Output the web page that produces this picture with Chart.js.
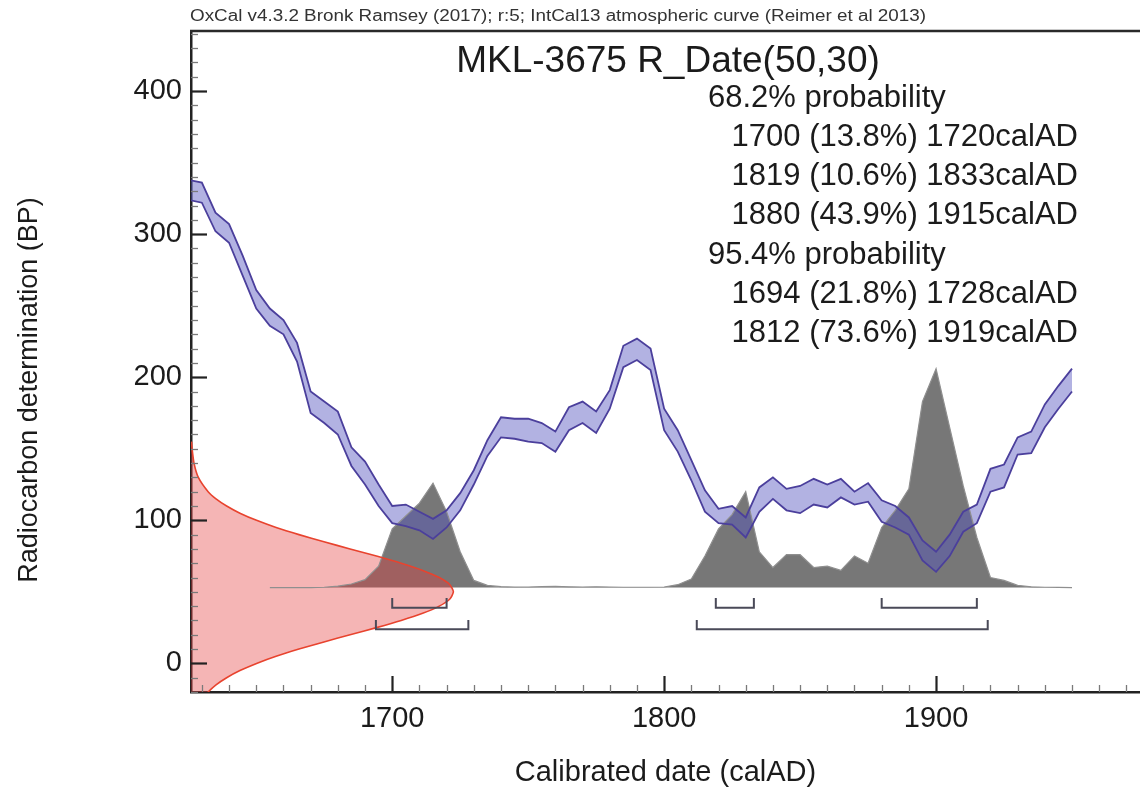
<!DOCTYPE html>
<html>
<head>
<meta charset="utf-8">
<title>MKL-3675 R_Date(50,30)</title>
<script src="https://cdn.jsdelivr.net/npm/chart.js@4.4.1/dist/chart.umd.min.js"></script>
<style>
  html, body { margin: 0; padding: 0; background: #fff; }
</style>
</head>
<body>
<canvas id="oxcal-chart" width="1140" height="792"></canvas>
<script>
// 标题与说明文字
const captionText = 'OxCal v4.3.2 Bronk Ramsey (2017); r:5; IntCal13 atmospheric curve (Reimer et al 2013)';
const titleText = 'MKL-3675 R_Date(50,30)';
const xTitle = 'Calibrated date (calAD)';
const yTitle = 'Radiocarbon determination (BP)';

// 刻度标签
const xTickValues = [1700, 1800, 1900];
const yTickValues = [0, 100, 200, 300, 400];

// IntCal13 校正曲线 (5 年一点)，上沿和下沿
const calYears = [1625, 1630, 1635, 1640, 1645, 1650, 1655, 1660, 1665, 1670,
  1675, 1680, 1685, 1690, 1695, 1700, 1705, 1710, 1715, 1720,
  1725, 1730, 1735, 1740, 1745, 1750, 1755, 1760, 1765, 1770,
  1775, 1780, 1785, 1790, 1795, 1800, 1805, 1810, 1815, 1820,
  1825, 1830, 1835, 1840, 1845, 1850, 1855, 1860, 1865, 1870,
  1875, 1880, 1885, 1890, 1895, 1900, 1905, 1910, 1915, 1920,
  1925, 1930, 1935, 1940, 1945, 1950];
const curveUpper = [338, 336, 315, 307, 285, 261, 248, 240, 224, 190,
  183, 176, 151, 141, 125, 110, 111, 106, 101, 107,
  119, 135, 156, 172, 171, 171, 168, 162, 179, 183,
  176, 191, 222, 227, 220, 178, 163, 142, 121, 108,
  110, 102, 123, 130, 122, 124, 129, 125, 129, 120,
  126, 114, 110, 102, 86, 78, 90, 106, 111, 136,
  139, 158, 162, 181, 194, 206];
const curveLower = [324, 322, 302, 294, 271, 248, 236, 230, 211, 175,
  168, 160, 138, 125, 110, 98, 96, 93, 87, 95,
  107, 125, 145, 158, 157, 155, 154, 148, 163, 168,
  161, 178, 207, 212, 205, 163, 148, 128, 106, 98,
  97, 88, 106, 115, 107, 105, 111, 109, 116, 111,
  113, 99, 95, 90, 72, 64, 75, 92, 98, 120,
  123, 146, 147, 165, 178, 190];

// 校正后的概率分布 (灰色)，基线在 53
const probYears = [1655, 1660, 1665, 1670, 1675, 1680, 1685, 1690, 1695, 1700,
  1705, 1710, 1715, 1720, 1725, 1730, 1735, 1740, 1745, 1750,
  1755, 1760, 1765, 1770, 1775, 1780, 1785, 1790, 1795, 1800,
  1805, 1810, 1815, 1820, 1825, 1830, 1835, 1840, 1845, 1850,
  1855, 1860, 1865, 1870, 1875, 1880, 1885, 1890, 1895, 1900,
  1905, 1910, 1915, 1920, 1925, 1930, 1935, 1940, 1945, 1950];
const probLevel = [53, 53, 53, 53, 53.2, 54, 55.5, 58.5, 68, 94,
  103, 112, 126, 106, 78, 58, 54.5, 53.6, 53.3, 53.4,
  53.6, 53.8, 53.5, 53.4, 53.5, 53.4, 53.2, 53.2, 53.2, 53.4,
  55, 59, 75, 94, 104, 120, 78, 67, 76, 76,
  67, 68, 65, 75, 70, 95, 107, 122, 183, 206,
  165, 124, 88, 60, 58, 54.5, 53.5, 53.2, 53.1, 53];
const probBaseline = 53;

// 放射性碳测年 (红色, 50±30 BP)，沿 y 轴的分布轮廓
const rdateBP = [155, 150, 140, 130, 120, 115, 110, 105, 100, 95,
  90, 85, 80, 75, 70, 65, 60, 55, 50, 45,
  40, 35, 30, 25, 20, 15, 10, 5, 0, -5,
  -10, -15, -20, -25, -30, -30, 155];
const rdateEdge = [1626.2, 1626.4, 1627.1, 1628.7, 1632.3, 1635.2, 1639.1, 1644, 1650.1, 1657.3,
  1665.7, 1674.9, 1684.5, 1694.2, 1703.3, 1711.2, 1717.3, 1721.2, 1722.5, 1721.2,
  1717.3, 1711.2, 1703.3, 1694.2, 1684.5, 1674.9, 1665.7, 1657.3, 1650.1, 1644,
  1639.1, 1635.2, 1632.3, 1630.1, 1628.7, 1618, 1618];

// 区间
const range68From = [1700, 1819, 1880];
const range68To = [1720, 1833, 1915];
const range68Pct = ['13.8', '10.6', '43.9'];
const range95From = [1694, 1812];
const range95To = [1728, 1919];
const range95Pct = ['21.8', '73.6'];

const FONT = "'Liberation Sans', Arial, Helvetica, sans-serif";
const INK = '#1b1b1b';

function toPoints(xs, ys) {
  return xs.map((x, i) => ({ x: x, y: ys[i] }));
}

// 区间括号: ⊔ 形
function bracketDataset(from, to, top, bottom) {
  return {
    label: 'range ' + from + '-' + to,
    data: [{ x: from, y: top }, { x: from, y: bottom }, { x: to, y: bottom }, { x: to, y: top }],
    showLine: true,
    pointRadius: 0,
    borderColor: '#4a4a58',
    borderWidth: 2,
    fill: false,
    order: 0
  };
}

const datasets = [];
range68From.forEach((f, i) => datasets.push(bracketDataset(f, range68To[i], 45.7, 38.8)));
range95From.forEach((f, i) => datasets.push(bracketDataset(f, range95To[i], 30.4, 23.9)));

datasets.push({
  label: 'R_Date(50,30)',
  data: toPoints(rdateEdge, rdateBP),
  showLine: true,
  pointRadius: 0,
  borderColor: '#e8432e',
  borderWidth: 1.6,
  backgroundColor: 'rgba(230, 60, 60, 0.38)',
  fill: 'shape',
  tension: 0.2,
  order: 1
});
datasets.push({
  label: 'IntCal13 upper',
  data: toPoints(calYears, curveUpper),
  showLine: true,
  pointRadius: 0,
  borderColor: '#4b3f9c',
  borderWidth: 1.8,
  backgroundColor: 'rgba(85, 85, 190, 0.45)',
  fill: '+1',
  order: 2
});
datasets.push({
  label: 'IntCal13 lower',
  data: toPoints(calYears, curveLower),
  showLine: true,
  pointRadius: 0,
  borderColor: '#4b3f9c',
  borderWidth: 1.8,
  fill: false,
  order: 3
});
datasets.push({
  label: 'calibrated',
  data: toPoints(probYears, probLevel),
  showLine: true,
  pointRadius: 0,
  borderColor: '#8f8f8f',
  borderWidth: 1.2,
  backgroundColor: '#777777',
  fill: { value: probBaseline },
  order: 4
});

// 坐标轴小刻度、上边框和文字
const oxcalDecor = {
  id: 'oxcalDecor',
  afterDatasetsDraw(chart) {
    const { ctx, chartArea } = chart;
    const xs = chart.scales.x;
    const ys = chart.scales.y;
    ctx.save();

    // y 轴刻度 (朝内)
    for (let v = -20; v <= 440; v += 10) {
      const py = Math.round(ys.getPixelForValue(v)) + 0.5;
      const major = v % 100 === 0;
      ctx.beginPath();
      ctx.strokeStyle = major ? '#222' : '#7a7a7a';
      ctx.lineWidth = major ? 2.2 : 1.3;
      ctx.moveTo(chartArea.left, py);
      ctx.lineTo(chartArea.left + (major ? 16 : 7), py);
      ctx.stroke();
    }
    // x 轴刻度 (朝内)
    for (let v = 1630; v <= 1970; v += 10) {
      const px = Math.round(xs.getPixelForValue(v)) + 0.5;
      const major = v % 100 === 0;
      ctx.beginPath();
      ctx.strokeStyle = major ? '#222' : '#7a7a7a';
      ctx.lineWidth = major ? 2.2 : 1.3;
      ctx.moveTo(px, chartArea.bottom);
      ctx.lineTo(px, chartArea.bottom - (major ? 16 : 7));
      ctx.stroke();
    }
    // 上边框
    ctx.beginPath();
    ctx.strokeStyle = '#2a2a2a';
    ctx.lineWidth = 2.5;
    ctx.moveTo(chartArea.left - 1, chartArea.top);
    ctx.lineTo(chartArea.right, chartArea.top);
    ctx.stroke();

    // 顶部说明 (横向拉伸到原图宽度)
    ctx.fillStyle = '#333';
    ctx.font = '16px ' + FONT;
    ctx.textAlign = 'left';
    ctx.textBaseline = 'middle';
    const capW = ctx.measureText(captionText).width;
    ctx.save();
    ctx.translate(chartArea.left - 1, 17);
    ctx.scale(736 / capW, 1);
    ctx.fillText(captionText, 0, 0);
    ctx.restore();

    // 标题
    ctx.fillStyle = INK;
    ctx.font = '37px ' + FONT;
    ctx.textAlign = 'center';
    ctx.fillText(titleText, 668, 62);

    // 概率区间文字
    ctx.font = '31px ' + FONT;
    const lines = [];
    lines.push({ t: '68.2% probability', head: true });
    range68From.forEach((f, i) => lines.push({ t: f + ' (' + range68Pct[i] + '%) ' + range68To[i] + 'calAD' }));
    lines.push({ t: '95.4% probability', head: true });
    range95From.forEach((f, i) => lines.push({ t: f + ' (' + range95Pct[i] + '%) ' + range95To[i] + 'calAD' }));
    lines.forEach((ln, i) => {
      const y = 98 + i * 39.3;
      if (ln.head) {
        ctx.textAlign = 'left';
        ctx.fillText(ln.t, 708, y);
      } else {
        ctx.textAlign = 'right';
        ctx.fillText(ln.t, 1078, y);
      }
    });

    // y 轴标题
    ctx.save();
    ctx.translate(30, 390);
    ctx.rotate(-Math.PI / 2);
    ctx.textAlign = 'center';
    ctx.font = '27px ' + FONT;
    ctx.fillText(yTitle, 0, 0);
    ctx.restore();

    ctx.restore();
  }
};

const ctx = document.getElementById('oxcal-chart').getContext('2d');
const chart = new Chart(ctx, {
  type: 'scatter',
  data: { datasets: datasets },
  options: {
    responsive: false,
    devicePixelRatio: 1,
    animation: false,
    layout: { padding: { top: 31, right: 0, bottom: 0, left: 0 } },
    plugins: {
      legend: { display: false },
      tooltip: { enabled: false },
      filler: { drawTime: 'beforeDatasetsDraw' }
    },
    scales: {
      x: {
        type: 'linear',
        position: 'bottom',
        min: 1626,
        max: 1975,
        afterFit: s => { s.height = 100; },
        afterBuildTicks: s => { s.ticks = xTickValues.map(v => ({ value: v })); },
        ticks: {
          font: { family: FONT, size: 29 },
          color: INK,
          padding: 10,
          maxRotation: 0,
          callback: v => String(v)
        },
        grid: { display: false, drawTicks: false },
        border: { display: true, color: '#222', width: 2.5 },
        title: {
          display: true,
          text: xTitle,
          font: { family: FONT, size: 29 },
          color: INK,
          padding: { top: 0, bottom: 2 }
        }
      },
      y: {
        type: 'linear',
        min: -20,
        max: 442,
        afterFit: s => { s.width = 191; },
        afterBuildTicks: s => { s.ticks = yTickValues.map(v => ({ value: v })); },
        ticks: {
          font: { family: FONT, size: 29 },
          color: INK,
          padding: 9,
          callback: v => String(v)
        },
        grid: { display: false, drawTicks: false },
        border: { display: true, color: '#222', width: 2.5 }
      }
    }
  },
  plugins: [oxcalDecor]
});
</script>
</body>
</html>
